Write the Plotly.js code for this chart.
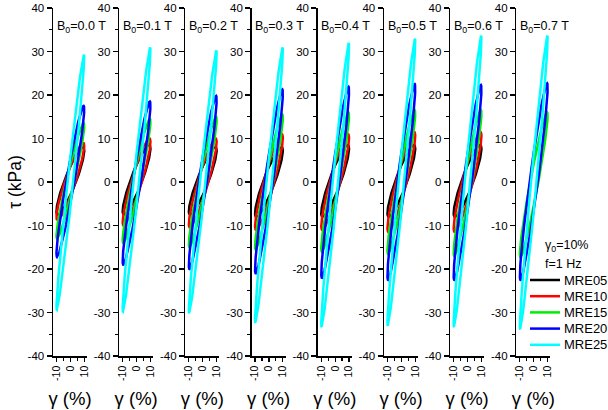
<!DOCTYPE html>
<html>
<head>
<meta charset="utf-8">
<script src="https://cdn.plot.ly/plotly-3.0.1.min.js"></script>
<style>html,body{margin:0;padding:0;background:#fff;}#chart{width:608px;height:410px;}</style>
</head>
<body>
<div id="chart"></div>
<script>
// ---- data ----
const fields = ['0.0', '0.1', '0.2', '0.3', '0.4', '0.5', '0.6', '0.7']; // B0 (T)
const series = ['MRE05', 'MRE10', 'MRE15', 'MRE20', 'MRE25'];
// peak (max) and trough (min) stress of each loop, kPa, one value per B0 panel
const peakMRE05   = [8.0, 8.5, 8.0, 8.0, 8.5, 8.5, 8.5, null];
const troughMRE05 = [-7.5, -7.5, -7.5, -8.0, -8.0, -8.0, -8.0, null];
const peakMRE10   = [9.0, 10.0, 10.0, 11.0, 11.0, 11.5, 11.5, null];
const troughMRE10 = [-8.7, -10.0, -10.5, -11.0, -11.0, -11.5, -11.5, null];
const peakMRE15   = [13.5, 14.5, 15.0, 15.5, 16.0, 16.5, 16.5, 16.0];
const troughMRE15 = [-13.0, -14.0, -15.0, -15.5, -16.0, -16.5, -17.0, -17.3];
const peakMRE20   = [17.5, 18.5, 19.8, 21.3, 21.9, 22.5, 22.3, 22.7];
const troughMRE20 = [-17.2, -19.0, -20.0, -21.0, -22.0, -22.5, -22.5, -22.5];
const peakMRE25   = [29.2, 30.9, 30.2, 30.9, 31.9, 32.9, 33.6, 33.6];
const troughMRE25 = [-29.4, -29.8, -30.1, -32.3, -33.3, -33.0, -33.3, -33.8];
// phase lag of stress behind strain (rad), read from the loop widths
const lagMRE = [0.45, 0.40, 0.30, 0.30, 0.20];
const strainAmplitude = 10; // gamma0 = 10 %
const yTicks = [-40, -30, -20, -10, 0, 10, 20, 30, 40];
const xTicks = [-10, 0, 10];

// ---- styling ----
const peaks = [peakMRE05, peakMRE10, peakMRE15, peakMRE20, peakMRE25];
const troughs = [troughMRE05, troughMRE10, troughMRE15, troughMRE20, troughMRE25];
const colors = ['#000000', '#ff0000', '#00ee00', '#0000ff', '#00ffff'];
const W = 608, H = 410;
const plotTop = 8, plotBottom = 356;
const firstLeft = 53, panelStep = 66.2, panelWidth = 34;
const NPTS = 120;
const FONT = 'Liberation Sans, Arial, sans-serif';

const traces = [];
for (let s = 0; s < series.length; s++) {
  for (let p = 0; p < fields.length; p++) {
    const pk = peaks[s][p], tr = troughs[s][p];
    if (pk === null || tr === null) continue;
    const amp = (pk - tr) / 2, mid = (pk + tr) / 2, d = lagMRE[s];
    const xs = [], ys = [];
    for (let k = 0; k <= NPTS; k++) {
      const t = 2 * Math.PI * k / NPTS;
      xs.push(strainAmplitude * Math.sin(t));
      ys.push(mid + amp * Math.sin(t + d));
    }
    const ax = p === 0 ? '' : String(p + 1);
    traces.push({
      type: 'scatter', mode: 'lines', x: xs, y: ys,
      xaxis: 'x' + ax, yaxis: 'y' + ax,
      name: series[s], legendgroup: series[s], showlegend: false,
      line: {color: colors[s], width: 2.5},
      hoverinfo: 'skip'
    });
  }
}

const layout = {
  width: W, height: H,
  margin: {l: 0, r: 0, t: 0, b: 0},
  paper_bgcolor: '#fff', plot_bgcolor: 'rgba(0,0,0,0)',
  showlegend: false,
  annotations: [],
  shapes: []
};

for (let p = 0; p < fields.length; p++) {
  const sfx = p === 0 ? '' : String(p + 1);
  const left = firstLeft + panelStep * p;
  layout['xaxis' + sfx] = {
    domain: [left / W, (left + panelWidth) / W],
    anchor: 'y' + sfx, range: [-12.5, 12], fixedrange: true,
    showgrid: false, zeroline: false, showline: true, linecolor: '#000', linewidth: 1.5,
    ticks: 'outside', ticklen: 4, tickwidth: 1.2, tickcolor: '#000',
    tickvals: xTicks, ticktext: xTicks.map(String), tickangle: -90,
    tickfont: {family: FONT, size: 10.5, color: '#000'},
    minor: {dtick: 5, tick0: 0, ticks: 'outside', ticklen: 3, tickwidth: 1.2, tickcolor: '#000', showgrid: false},
    title: {text: 'γ (%)', standoff: 12, font: {family: FONT, size: 18.5, color: '#000'}}
  };
  layout['yaxis' + sfx] = {
    domain: [1 - plotBottom / H, 1 - plotTop / H],
    anchor: 'x' + sfx, range: [-40, 40], fixedrange: true,
    showgrid: false, zeroline: false, showline: true, linecolor: '#000', linewidth: 1.5,
    ticks: 'outside', ticklen: 5, tickwidth: 1.2, tickcolor: '#000',
    tickvals: yTicks, ticktext: yTicks.map(String),
    tickfont: {family: FONT, size: 11.5, color: '#000'},
    minor: {dtick: 5, tick0: 0, ticks: 'outside', ticklen: 3, tickwidth: 1.2, tickcolor: '#000', showgrid: false}
  };
  if (p === 0) {
    layout.yaxis.title = {text: 'τ (kPa)', standoff: 1, font: {family: FONT, size: 17.5, color: '#000'}};
  }
  layout.annotations.push({
    xref: 'paper', yref: 'paper', x: (left + 1.5) / W, y: 1 - 27 / H,
    xanchor: 'left', yanchor: 'middle', showarrow: false,
    text: 'B<sub>0</sub>=' + fields[p] + ' T',
    font: {family: FONT, size: 12.5, color: '#000'}
  });
}
layout.annotations.push({
  xref: 'paper', yref: 'paper', x: 543 / W, y: 1 - 246 / H,
  xanchor: 'left', yanchor: 'middle', showarrow: false,
  text: 'γ<sub>0</sub>=10%',
  font: {family: FONT, size: 12.5, color: '#000'}
});
layout.annotations.push({
  xref: 'paper', yref: 'paper', x: 543 / W, y: 1 - 264 / H,
  xanchor: 'left', yanchor: 'middle', showarrow: false,
  text: 'f=1 Hz',
  font: {family: FONT, size: 12.5, color: '#000'}
});
// legend (drawn as line samples + labels to match the tight row spacing)
const legendRowsY = [280, 296.2, 312.4, 328.6, 344.8];
for (let s = 0; s < series.length; s++) {
  const yy = 1 - legendRowsY[s] / H;
  layout.shapes.push({
    type: 'line', xref: 'paper', yref: 'paper',
    x0: 530 / W, x1: 560 / W, y0: yy, y1: yy,
    line: {color: colors[s], width: 2.5}
  });
  layout.annotations.push({
    xref: 'paper', yref: 'paper', x: 562 / W, y: yy,
    xanchor: 'left', yanchor: 'middle', showarrow: false,
    text: series[s],
    font: {family: FONT, size: 13, color: '#000'}
  });
}

Plotly.newPlot('chart', traces, layout, {staticPlot: true, displayModeBar: false});
</script>
</body>
</html>
